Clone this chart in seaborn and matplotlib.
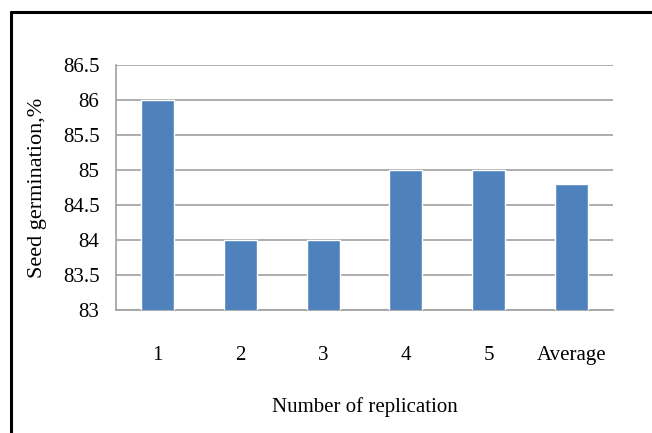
import matplotlib
matplotlib.use("Agg")
import matplotlib.pyplot as plt
from matplotlib.lines import Line2D
import seaborn as sns
import pandas as pd
import numpy as np

categories = ["1", "2", "3", "4", "5", "Average"]
germination = [86.0, 84.0, 84.0, 85.0, 85.0, 84.8]
y_ticks = [83, 83.5, 84, 84.5, 85, 85.5, 86, 86.5]
y_tick_labels = ["83", "83.5", "84", "84.5", "85", "85.5", "86", "86.5"]

sns.set_theme(style="white")
plt.rcParams["font.family"] = ["Liberation Serif", "DejaVu Serif"]
plt.rcParams["text.color"] = "black"
plt.rcParams["axes.labelcolor"] = "black"
plt.rcParams["xtick.labelcolor"] = "black"
plt.rcParams["ytick.labelcolor"] = "black"

df = pd.DataFrame({"replication": categories, "germination": germination})

fig = plt.figure(figsize=(6.52, 4.33), dpi=100)
ax = fig.add_axes([0.178, 0.284, 0.762, 0.566])

grid_c = "#a0a0a0"
sns.barplot(data=df, x="replication", y="germination", color="#4f81bd",
            saturation=1, width=0.4, ax=ax, zorder=3)

ax.set_ylim(83, 86.5)
ax.set_xlim(-0.5, len(categories) - 0.5)
ax.set_yticks(y_ticks)
ax.set_yticklabels(y_tick_labels)
ax.yaxis.grid(True, color=grid_c, linewidth=1.2, zorder=0)
ax.set_axisbelow(True)

# category boundary ticks on the x axis
ax.set_xticks(np.arange(-0.5, len(categories)), minor=True)
ax.tick_params(axis="x", which="major", length=0, pad=26, labelsize=15)
ax.tick_params(axis="x", which="minor", length=8, width=1, color=grid_c, direction="out")
ax.tick_params(axis="y", which="major", length=8, width=1, color=grid_c,
               direction="out", labelsize=15, pad=4)

for side in ("top", "right"):
    ax.spines[side].set_visible(False)
for side in ("left", "bottom"):
    ax.spines[side].set_color(grid_c)
    ax.spines[side].set_linewidth(1.2)

ax.set_xlabel("Number of replication", fontsize=15, labelpad=23)
ax.set_ylabel("Seed germination,%", fontsize=16, labelpad=11)

# frame lines on the left and top of the figure
fig.add_artist(Line2D([0.017, 0.017], [0.0, 0.972], color="black", linewidth=2.2,
                      transform=fig.transFigure))
fig.add_artist(Line2D([0.017, 1.0], [0.972, 0.972], color="black", linewidth=2.2,
                      transform=fig.transFigure))

fig.savefig("out.png", dpi=100)
